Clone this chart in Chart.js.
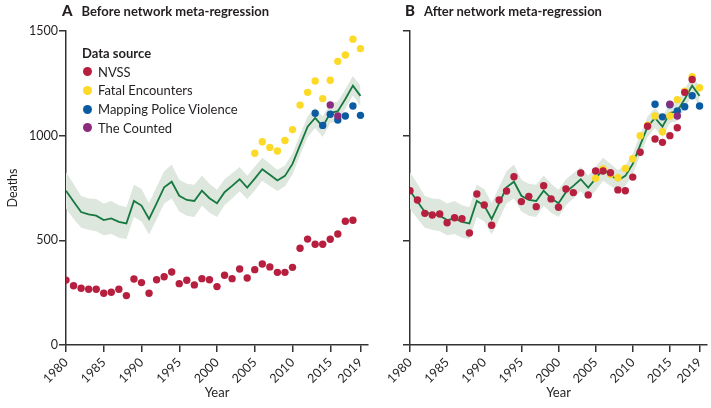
<!DOCTYPE html>
<html>
<head>
<meta charset="utf-8">
<script src="https://cdn.jsdelivr.net/npm/chart.js@4.4.0/dist/chart.umd.min.js"></script>
<style>
  body { margin: 0; background: #fff; font-family: Lato, "Open Sans", sans-serif; color: #231f20; }
  #page { position: relative; width: 711px; height: 408px; overflow: hidden; }
  .wrap { position: absolute; top: 0; height: 408px; }
  #wrapA { left: 0; width: 380px; }
  #wrapB { left: 370px; width: 341px; }
  .ptitle { position: absolute; top: 1px; font-weight: 700; font-size: 13px; white-space: nowrap; }
  .ptitle b { font-size: 15px; margin-right: 9px; }
  #legend { position: absolute; left: 82px; top: 44px; font-size: 13px; line-height: 18.7px; }
  #legend .ttl { font-weight: 700; margin-bottom: 0px; }
  #legend .item { position: relative; padding-left: 16px; white-space: nowrap; }
  #legend .dot { position: absolute; left: 1px; top: 4.5px; width: 9px; height: 9px; border-radius: 50%; }
</style>
</head>
<body>
<div id="page">
  <div class="wrap" id="wrapA"><canvas id="chartA" width="380" height="408"></canvas></div>
  <div class="wrap" id="wrapB"><canvas id="chartB" width="341" height="408"></canvas></div>
  <div class="ptitle" style="left:62px"><b>A</b>Before network meta-regression</div>
  <div class="ptitle" style="left:405px"><b>B</b>After network meta-regression</div>
  <div id="legend"></div>
</div>
<script>
// ---- data ----
const years = [1980, 1981, 1982, 1983, 1984, 1985, 1986, 1987, 1988, 1989,
  1990, 1991, 1992, 1993, 1994, 1995, 1996, 1997, 1998, 1999,
  2000, 2001, 2002, 2003, 2004, 2005, 2006, 2007, 2008, 2009,
  2010, 2011, 2012, 2013, 2014, 2015, 2016, 2017, 2018, 2019];
const xTicks = [1980, 1985, 1990, 1995, 2000, 2005, 2010, 2015, 2019];
const yTicks = [0, 500, 1000, 1500];

const sourceNames = ["NVSS", "Fatal Encounters", "Mapping Police Violence", "The Counted"];
const sourceColors = ["#b71f3f", "#fdd928", "#0b5ba3", "#8a2b7d"];

// model estimate (same in both panels)
const modelMean = [737, 685, 635, 624, 618, 597, 605, 588, 581, 688,
  666, 602, 677, 753, 780, 713, 693, 688, 737, 701,
  677, 730, 760, 792, 752, 795, 840, 813, 786, 808,
  865, 955, 1043, 1085, 1043, 1108, 1117, 1175, 1239, 1190];
const modelUpper = [825, 770, 712, 700, 697, 676, 688, 668, 658, 765,
  745, 678, 755, 830, 862, 790, 770, 765, 810, 770,
  742, 792, 820, 850, 808, 852, 895, 866, 836, 858,
  915, 1005, 1092, 1133, 1092, 1155, 1163, 1222, 1285, 1238];
const modelLower = [652, 603, 560, 550, 543, 524, 530, 512, 506, 612,
  590, 528, 600, 676, 700, 638, 618, 612, 665, 632,
  612, 668, 700, 734, 696, 738, 785, 760, 736, 758,
  815, 905, 994, 1037, 994, 1060, 1070, 1128, 1192, 1142];

// panel A: raw counts
const nvssRaw = [310, 283, 271, 266, 266, 247, 252, 266, 236, 315,
  298, 247, 312, 326, 349, 293, 309, 287, 317, 312,
  279, 333, 317, 363, 320, 360, 387, 373, 347, 347,
  371, 462, 506, 481, 481, 505, 530, 591, 596];
const feRaw = [916, 971, 944, 927, 977, 1029, 1146, 1207, 1261, 1177, 1265, 1355, 1385, 1461, 1416];
const mpvRaw = [1107, 1049, 1102, 1075, 1094, 1142, 1097];
const countedRaw = [1147, 1094];

// panel B: adjusted counts
const nvssAdj = [737, 693, 629, 621, 626, 584, 608, 603, 535, 721,
  669, 572, 693, 736, 804, 685, 710, 661, 761, 698,
  658, 745, 728, 822, 717, 831, 831, 823, 741, 737,
  802, 921, 1045, 984, 968, 1000, 1038, 1207, 1268];
const feAdj = [796, 841, 816, 799, 843, 890, 1000, 1050, 1094, 1019, 1094, 1172, 1212, 1282, 1229];
const mpvAdj = [1150, 1090, 1148, 1118, 1138, 1191, 1142];
const countedAdj = [1150, 1094];

const nvssYears = years.slice(0, 39);
const feYears = years.slice(25);
const mpvYears = years.slice(33);
const countedYears = years.slice(35, 37);

function toPoints(xs, ys) {
  return ys.map((v, i) => ({ x: xs[i], y: v }));
}

function dots(i, xs, vals, order) {
  return {
    label: sourceNames[i],
    data: toPoints(xs, vals),
    showLine: false,
    pointRadius: 3.7,
    pointBorderWidth: 0,
    pointBackgroundColor: sourceColors[i],
    backgroundColor: sourceColors[i],
    order: order
  };
}

function buildChart(id, series, yAxisWidth, padRight, showYLabels) {
  return new Chart(document.getElementById(id), {
    type: "line",
    data: {
      datasets: [
        dots(0, nvssYears, series[0], 1),
        dots(1, feYears, series[1], 4),
        dots(2, mpvYears, series[2], 3),
        dots(3, countedYears, series[3], 2),
        {
          label: "model",
          data: toPoints(years, modelMean),
          borderColor: "#17793f",
          borderWidth: 1.8,
          pointRadius: 0,
          fill: false,
          order: 5
        },
        {
          label: "upper",
          data: toPoints(years, modelUpper),
          borderWidth: 0,
          pointRadius: 0,
          backgroundColor: "#dde7de",
          fill: "+1",
          order: 6
        },
        {
          label: "lower",
          data: toPoints(years, modelLower),
          borderWidth: 0,
          pointRadius: 0,
          fill: false,
          order: 7
        }
      ]
    },
    options: {
      responsive: false,
      animation: false,
      devicePixelRatio: 1,
      layout: { padding: { left: 0, right: padRight, top: 31, bottom: 0 } },
      plugins: {
        legend: { display: false },
        tooltip: { enabled: false }
      },
      scales: {
        x: {
          type: "linear",
          min: 1980,
          max: 2020,
          afterBuildTicks: (scale) => { scale.ticks = xTicks.map(v => ({ value: v })); },
          afterFit: (scale) => { scale.height = 63; scale.paddingLeft = 0; scale.paddingRight = 0; },
          ticks: {
            color: "#231f20",
            font: { family: "Lato", size: 12.5 },
            minRotation: 45,
            maxRotation: 45,
            padding: 3,
            autoSkip: false,
            callback: (v) => String(v)
          },
          grid: { drawOnChartArea: false, drawTicks: true, tickLength: 7, color: "#333", lineWidth: 1.5 },
          border: { color: "#333", width: 1.5 },
          title: { display: true, text: "Year", color: "#231f20", font: { family: "Lato", size: 13 }, padding: { top: 0, bottom: 7 } }
        },
        y: {
          min: 0,
          max: 1500,
          afterBuildTicks: (scale) => { scale.ticks = yTicks.map(v => ({ value: v })); },
          afterFit: (scale) => { scale.width = yAxisWidth; scale.paddingTop = 0; scale.paddingBottom = 0; },
          ticks: {
            display: showYLabels,
            color: "#231f20",
            font: { family: "Lato", size: 12.5 },
            padding: 1,
            callback: (v) => String(v)
          },
          grid: { drawOnChartArea: false, drawTicks: true, tickLength: 7, color: "#333", lineWidth: 1.5 },
          border: { color: "#333", width: 1.5 },
          title: { display: showYLabels, text: "Deaths", color: "#231f20", font: { family: "Lato", size: 12.5 }, padding: { top: 5, bottom: 0 } }
        }
      }
    }
  });
}

buildChart("chartA", [nvssRaw, feRaw, mpvRaw, countedRaw], 66, 12, true);
buildChart("chartB", [nvssAdj, feAdj, mpvAdj, countedAdj], 40, 0, false);

// legend (panel A)
const legend = document.getElementById("legend");
legend.innerHTML = '<div class="ttl">Data source</div>' +
  sourceNames.map((name, i) =>
    `<div class="item"><span class="dot" style="background:${sourceColors[i]}"></span>${name}</div>`
  ).join("");
</script>
</body>
</html>
